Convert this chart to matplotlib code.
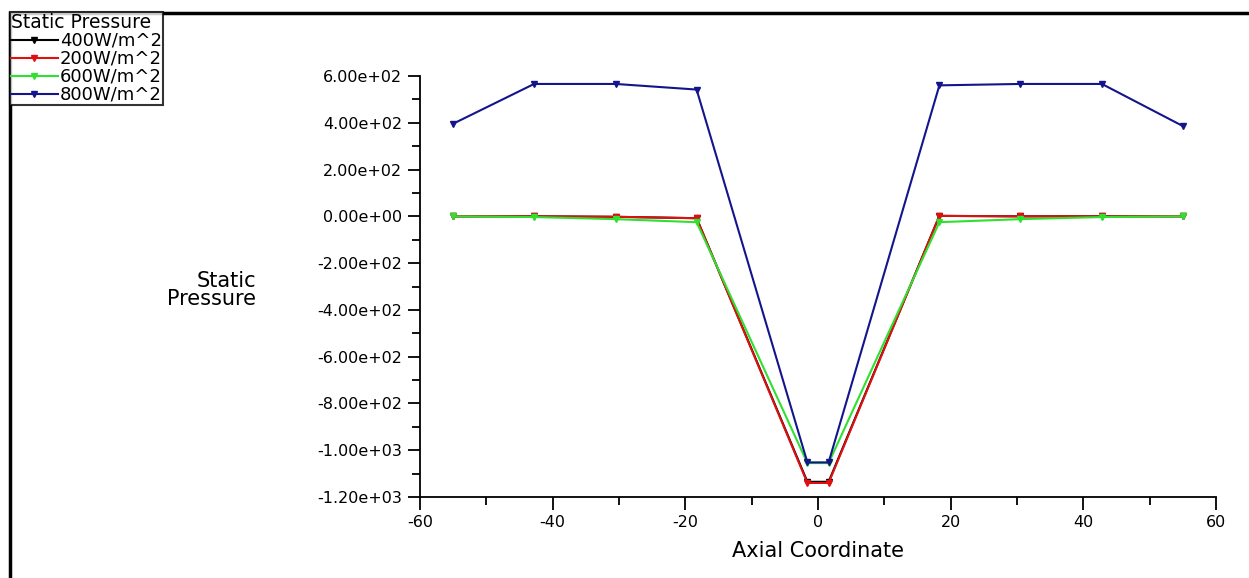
import matplotlib.pyplot as plt
import matplotlib.patches as mpatches
from matplotlib.ticker import MultipleLocator, FuncFormatter

# ── Données ───────────────────────────────────────────────────────────────────
axial = [-55, -42.8, -30.5, -18.3, -1.6, 1.6, 18.3, 30.5, 42.8, 55]

p_400 = [0, 0, -2, -8, -1135, -1135, 2, 0, 0, 0]
p_200 = [0, 0, -2, -8, -1140, -1140, 2, 0, 0, 0]
p_600 = [0, -3, -12, -25, -1055, -1055, -25, -12, -3, 0]
p_800 = [396, 566, 566, 542, -1052, -1052, 560, 566, 566, 386]

labels = ["400W/m^2", "200W/m^2", "600W/m^2", "800W/m^2"]
colors = ["#000000", "#e01010", "#30e030", "#14148c"]

W, H = 1249, 578
fig = plt.figure(figsize=(W / 100, H / 100), dpi=100)
ax = fig.add_axes([420 / W, 1 - 497 / H, (1216 - 420) / W, (497 - 76) / H])

for y, c, lab in zip([p_400, p_200, p_600, p_800], colors, labels):
    ax.plot(axial, y, color=c, linewidth=1.5, marker="v", markersize=5,
            label=lab)

ax.set_xlim(-60, 60)
ax.set_ylim(-1200, 600)
ax.xaxis.set_major_locator(MultipleLocator(20))
ax.xaxis.set_minor_locator(MultipleLocator(10))
ax.yaxis.set_major_locator(MultipleLocator(200))
ax.yaxis.set_minor_locator(MultipleLocator(100))
ax.yaxis.set_major_formatter(FuncFormatter(lambda v, p: f"{v:.2e}"))
ax.xaxis.set_major_formatter(FuncFormatter(lambda v, p: f"{v:.0f}"))

for s in ["top", "right"]:
    ax.spines[s].set_visible(False)
ax.spines["left"].set_linewidth(1.3)
ax.spines["bottom"].set_linewidth(1.3)
ax.tick_params(which="major", direction="out", length=9, width=1.3,
               labelsize=11.5, pad=4)
ax.tick_params(which="minor", direction="out", length=6, width=1.3)

ax.set_xlabel("Axial Coordinate", fontsize=15, labelpad=8)
ax.text(256 / W, 1 - 290 / H, "Static\nPressure", transform=fig.transFigure,
        fontsize=15, ha="right", va="center", multialignment="right",
        linespacing=0.9)

# Légende en haut à gauche
leg = fig.legend(loc="upper left", bbox_to_anchor=(10 / W, 1 - 12 / H),
                 title="Static Pressure", title_fontsize=13.5, fontsize=13,
                 frameon=True, fancybox=False, edgecolor="black",
                 borderpad=0.05, labelspacing=0.0, handlelength=2.6,
                 handletextpad=0.1, borderaxespad=0, alignment="left")
leg.get_frame().set_linewidth(1.5)

# Cadre de la figure
fig.patches.append(mpatches.Rectangle((10 / W, -0.05), 1.1, 1 - 13 / H + 0.05,
                                      transform=fig.transFigure, fill=False,
                                      edgecolor="black", linewidth=2.5))

fig.savefig("out.png", dpi=100)
